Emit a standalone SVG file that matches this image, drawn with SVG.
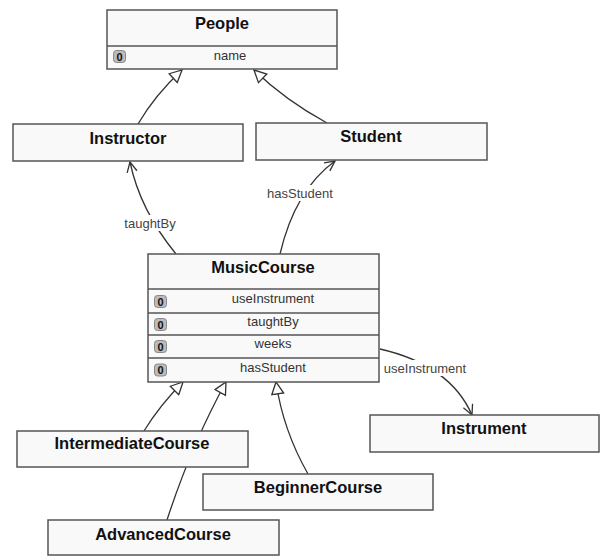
<svg xmlns="http://www.w3.org/2000/svg" width="601" height="556" viewBox="0 0 601 556">
<style>
.box{fill:#f9f9f9;stroke:#555;stroke-width:1.5}
.div{stroke:#555;stroke-width:1.5}
.title{font-family:"Liberation Sans",Arial,sans-serif;font-weight:bold;font-size:16.5px;fill:#111;text-anchor:middle}
.field{font-family:"Liberation Sans",Arial,sans-serif;font-size:13px;fill:#333;text-anchor:middle}
.lbl{font-family:"Liberation Sans",Arial,sans-serif;font-size:13px;fill:#444;text-anchor:middle}
.badge{fill:#bbb;stroke:#888;stroke-width:1}
.bt{font-family:"Liberation Sans",Arial,sans-serif;font-weight:bold;font-size:11px;fill:#111;text-anchor:middle}
.edge{fill:none;stroke:#333;stroke-width:1.3}
.gen{marker-end:url(#tri)}
.asc{marker-end:url(#open)}
.lbg{fill:#fff}
</style>
<defs>
<marker id="tri" markerUnits="userSpaceOnUse" markerWidth="14" markerHeight="14" refX="13" refY="7" orient="auto" viewBox="0 0 14 14">
<path d="M1,1 L13,7 L1,13 Z" fill="#fff" stroke="#333" stroke-width="1.3"/>
</marker>
<marker id="open" markerUnits="userSpaceOnUse" markerWidth="12" markerHeight="12" refX="11" refY="6" orient="auto" viewBox="0 0 12 12">
<path d="M1,1 L11,6 L1,11" fill="none" stroke="#333" stroke-width="1.3"/>
</marker>
</defs>
<rect width="601" height="556" fill="#fff"/>
<g id="connectors">
<path class="edge gen" d="M138,124 Q155,95 182,70"/>
<path class="edge gen" d="M327,123 Q285,100 254,70"/>
<path class="edge asc" d="M176,254 Q140,210 130,162"/>
<path class="edge asc" d="M280,254 Q295,190 335,161"/>
<path class="edge asc" d="M380,349 Q450,365 472,415"/>
<path class="edge gen" d="M144,431 Q160,405 183,382"/>
<path class="edge gen" d="M167,520 C185,465 205,420 226,382"/>
<path class="edge gen" d="M308,474 Q283,430 276,382"/>
<rect class="lbg" x="122" y="215" width="56" height="16"/>
<text class="lbl" x="150" y="228">taughtBy</text>
<rect class="lbg" x="265" y="185" width="70" height="16"/>
<text class="lbl" x="300" y="198">hasStudent</text>
<rect class="lbg" x="382" y="360" width="86" height="16"/>
<text class="lbl" x="425" y="373">useInstrument</text>
</g>
<g id="People">
<rect class="box" x="107" y="10" width="230" height="59"/>
<line class="div" x1="107" y1="46" x2="337" y2="46"/>
<text class="title" x="222" y="29">People</text>
<rect class="badge" x="113.5" y="50.5" width="12" height="12" rx="3"/>
<text class="bt" x="119.5" y="60.5">0</text>
<text class="field" x="230" y="60">name</text>
</g>
<g id="Instructor">
<rect class="box" x="13" y="124" width="230" height="37"/>
<text class="title" x="128" y="144">Instructor</text>
</g>
<g id="Student">
<rect class="box" x="256" y="123" width="231" height="37"/>
<text class="title" x="371" y="142">Student</text>
</g>
<g id="MusicCourse">
<rect class="box" x="148" y="254" width="231" height="128"/>
<line class="div" x1="148" y1="289" x2="379" y2="289"/>
<line class="div" x1="148" y1="313" x2="379" y2="313"/>
<line class="div" x1="148" y1="335" x2="379" y2="335"/>
<line class="div" x1="148" y1="358" x2="379" y2="358"/>
<text class="title" x="263" y="273">MusicCourse</text>
<rect class="badge" x="154.5" y="295.5" width="12" height="12" rx="3"/>
<text class="bt" x="160.5" y="305.5">0</text>
<text class="field" x="273" y="303">useInstrument</text>
<rect class="badge" x="154.5" y="318.5" width="12" height="12" rx="3"/>
<text class="bt" x="160.5" y="328.5">0</text>
<text class="field" x="273" y="326">taughtBy</text>
<rect class="badge" x="154.5" y="340.5" width="12" height="12" rx="3"/>
<text class="bt" x="160.5" y="350.5">0</text>
<text class="field" x="273" y="348">weeks</text>
<rect class="badge" x="154.5" y="364" width="12" height="12" rx="3"/>
<text class="bt" x="160.5" y="374">0</text>
<text class="field" x="273" y="372">hasStudent</text>
</g>
<g id="Instrument">
<rect class="box" x="370" y="415" width="229" height="37"/>
<text class="title" x="484" y="434">Instrument</text>
</g>
<g id="IntermediateCourse">
<rect class="box" x="17" y="431" width="231" height="36"/>
<text class="title" x="132" y="449">IntermediateCourse</text>
</g>
<g id="BeginnerCourse">
<rect class="box" x="203" y="474" width="230" height="36"/>
<text class="title" x="318" y="493">BeginnerCourse</text>
</g>
<g id="AdvancedCourse">
<rect class="box" x="48" y="520" width="231" height="35"/>
<text class="title" x="163" y="540">AdvancedCourse</text>
</g>
</svg>
